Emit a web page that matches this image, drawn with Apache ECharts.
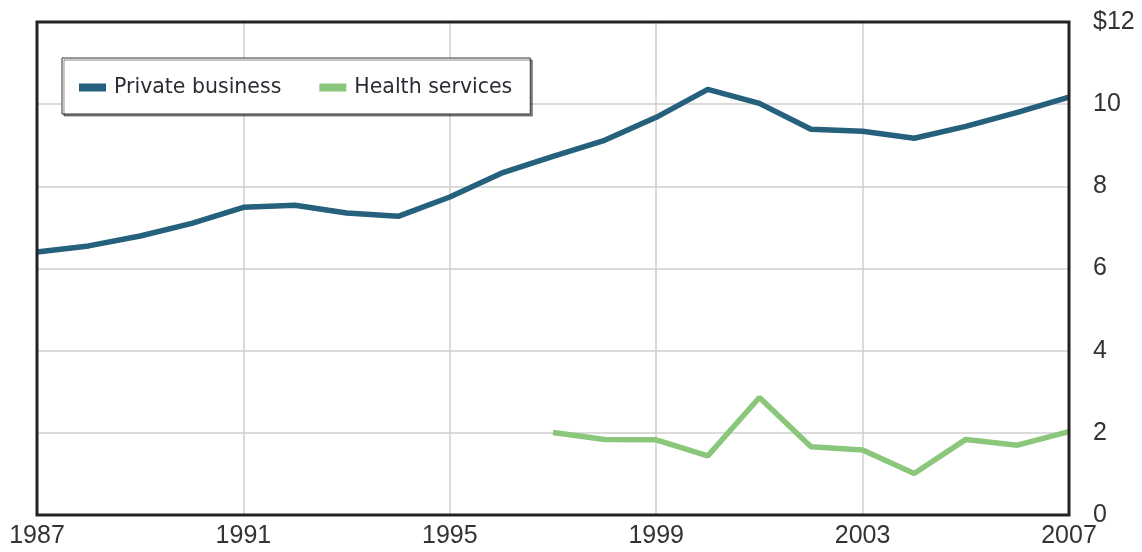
<!DOCTYPE html>
<html>
<head>
<meta charset="utf-8">
<style>html,body{margin:0;padding:0;background:#fff;}#chart{width:1142px;height:552px;}</style>
<script src="https://cdn.jsdelivr.net/npm/echarts@6/dist/echarts.min.js"></script>
</head>
<body>
<div id="chart"></div>
<script>
var years = [1987,1988,1989,1990,1991,1992,1993,1994,1995,1996,1997,1998,1999,2000,2001,2002,2003,2004,2005,2006,2007];
var privateBusiness = [6.40,6.55,6.79,7.10,7.49,7.54,7.35,7.27,7.74,8.32,8.73,9.12,9.68,10.36,10.02,9.39,9.34,9.17,9.46,9.80,10.17];
var healthYears = [1997,1998,1999,2000,2001,2002,2003,2004,2005,2006,2007];
var healthServices = [2.01,1.84,1.83,1.44,2.86,1.66,1.58,1.01,1.84,1.70,2.03];
var xTicks = [1987,1991,1995,1999,2003,2007];
var yTicks = [0,2,4,6,8,10,'$12'];
var seriesNames = ['Private business','Health services'];

function pairs(xs, ys){ return xs.map(function(x,i){ return [x, ys[i]]; }); }

var chart = echarts.init(document.getElementById('chart'));
var axisFont = 'Liberation Sans Narrow, Liberation Sans, sans-serif';
chart.setOption({
  animation: false,
  backgroundColor: '#fff',
  grid: { left: 37, right: 73, top: 22, bottom: 37, show: true, borderColor: '#222', borderWidth: 3, backgroundColor: 'transparent', containLabel: false, z: 5 },
  legend: {
    left: 62, top: 58,
    orient: 'horizontal',
    icon: 'rect',
    itemWidth: 27, itemHeight: 8, itemGap: 38,
    padding: [19, 18, 16, 17],
    backgroundColor: '#fff',
    borderColor: '#333', borderWidth: 1,
    shadowColor: 'rgba(0,0,0,0.45)', shadowBlur: 0, shadowOffsetX: 2, shadowOffsetY: 2,
    textStyle: { fontFamily: 'DejaVu Sans, sans-serif', fontSize: 20.5, color: '#2b2b33', padding: [0,0,0,3] },
    data: seriesNames
  },
  xAxis: {
    type: 'value', min: 1987, max: 2007, interval: 4,
    axisLine: { show: false }, axisTick: { show: false },
    splitLine: { show: true, showMinLine: false, showMaxLine: false, lineStyle: { color: '#cfcfcf', width: 1.5 } },
    axisLabel: { fontFamily: axisFont, fontSize: 25, color: '#333', margin: 9,
      formatter: function(v){ return xTicks.indexOf(v) >= 0 ? String(v) : ''; } }
  },
  yAxis: {
    type: 'value', position: 'right', min: 0, max: 12, interval: 2,
    axisLine: { show: false }, axisTick: { show: false },
    splitLine: { show: true, showMinLine: false, showMaxLine: false, lineStyle: { color: '#cfcfcf', width: 1.5 } },
    axisLabel: { fontFamily: axisFont, fontSize: 25, color: '#333', margin: 24, align: 'left',
      formatter: function(v){ return String(yTicks[v/2]); } }
  },
  series: [
    { name: seriesNames[0], type: 'line', data: pairs(years, privateBusiness), symbol: 'none',
      lineStyle: { color: '#25607c', width: 5.5 }, itemStyle: { color: '#25607c' }, z: 3 },
    { name: seriesNames[1], type: 'line', data: pairs(healthYears, healthServices), symbol: 'none',
      lineStyle: { color: '#8ac77a', width: 5.5 }, itemStyle: { color: '#8ac77a' }, z: 3 }
  ]
});
</script>
</body>
</html>
